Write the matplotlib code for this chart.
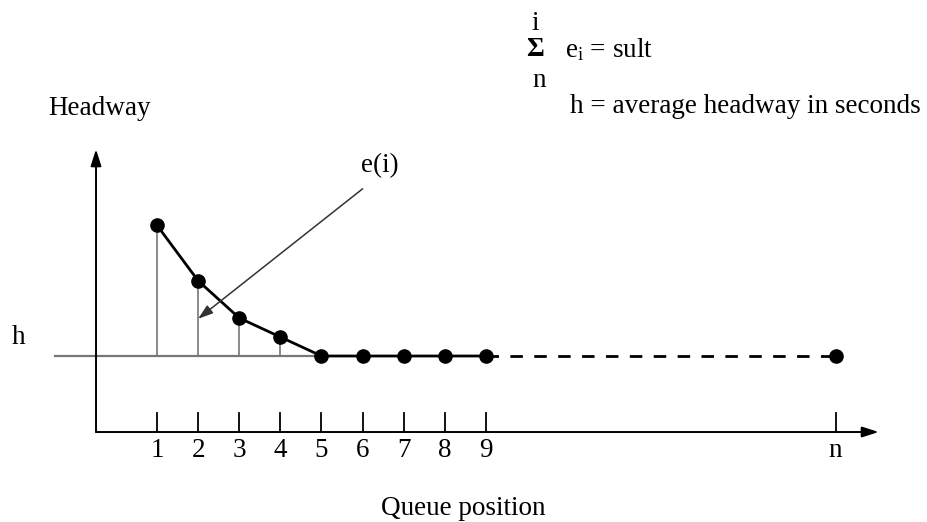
import matplotlib
matplotlib.use('Agg')
from matplotlib import pyplot as plt

plt.rcParams['font.family'] = ['Liberation Serif', 'DejaVu Serif']
plt.rcParams['mathtext.fontset'] = 'custom'
plt.rcParams['mathtext.rm'] = 'Liberation Serif'
plt.rcParams['mathtext.it'] = 'Liberation Serif:italic'
plt.rcParams['mathtext.bf'] = 'Liberation Serif:bold'

# Queue positions and their headways (h = 1 unit).
positions = [1, 2, 3, 4, 5, 6, 7, 8, 9]
headway = [2.72, 1.99, 1.5, 1.25, 1.0, 1.0, 1.0, 1.0, 1.0]
tick_labels = ['1', '2', '3', '4', '5', '6', '7', '8', '9']
n_pos = 17.5
h = 1.0

FS = 19.5

fig = plt.figure(figsize=(9.28, 5.22), dpi=100)
ax = fig.add_axes([0, 0, 1, 1])
ax.axis('off')
ax.set_xlim(-2.8176, 19.748)
ax.set_ylim(-1.184, 5.684)

# Axes with arrow heads.
x0 = -0.483
head = '-|>,head_length=1.0,head_width=0.32'
ax.annotate('', xy=(x0, 3.72), xytext=(x0, 0),
            arrowprops=dict(arrowstyle=head, color='black', lw=1.4,
                            shrinkA=0, shrinkB=0))
ax.annotate('', xy=(18.55, 0), xytext=(x0, 0),
            arrowprops=dict(arrowstyle=head, color='black', lw=1.4,
                            shrinkA=0, shrinkB=0))

# Tick marks and labels.
for x, lab in zip(positions + [n_pos], tick_labels + ['n']):
    ax.plot([x, x], [0, 0.25], color='black', lw=1.3)
    ax.text(x, -0.24, lab, ha='center', va='center', fontsize=FS)

# Average headway line.
ax.plot([-1.48, 5], [h, h], color='#777777', lw=1.6, zorder=1)

# Stems showing e(i).
for x, y in zip(positions[:4], headway[:4]):
    ax.plot([x, x], [h, y], color='#777777', lw=1.2, zorder=1)

# Headway curve.
ax.plot(positions, headway, color='black', lw=2.0, marker='o',
        markersize=9.5, zorder=3)
ax.plot([positions[-1], n_pos], [h, h], color='black', lw=2.0,
        dashes=(4.5, 4.1), zorder=2)
ax.plot([n_pos], [h], 'o', color='black', markersize=9.5, zorder=3)

# e(i) pointer.
ax.annotate('', xy=(2.0, 1.49), xytext=(6.0, 3.2),
            arrowprops=dict(arrowstyle='-|>,head_length=0.9,head_width=0.3',
                            color='#333333', lw=1.1, shrinkA=0, shrinkB=0))
ax.text(6.42, 3.5, 'e(i)', ha='center', va='center', fontsize=FS)

# Labels.
ax.text(-0.39, 4.26, 'Headway', ha='center', va='center', fontsize=FS)
ax.text(-2.356, 1.25, 'h', ha='center', va='center', fontsize=FS)
ax.text(8.45, -1.0, 'Queue position', ha='center', va='center', fontsize=FS)

# Formula block.
ax.text(10.19, 5.38, 'i', ha='center', va='center', fontsize=FS)
ax.text(10.19, 5.03, 'Σ', ha='center', va='center', fontsize=FS,
        fontweight='bold')
ax.text(10.92, 5.03, r'$\mathrm{e_i}$ = sult', ha='left', va='center',
        fontsize=FS)
ax.text(10.3, 4.62, 'n', ha='center', va='center', fontsize=FS)
ax.text(11.04, 4.28, 'h = average headway in seconds', ha='left',
        va='center', fontsize=FS)

fig.savefig('out.png', dpi=100)
